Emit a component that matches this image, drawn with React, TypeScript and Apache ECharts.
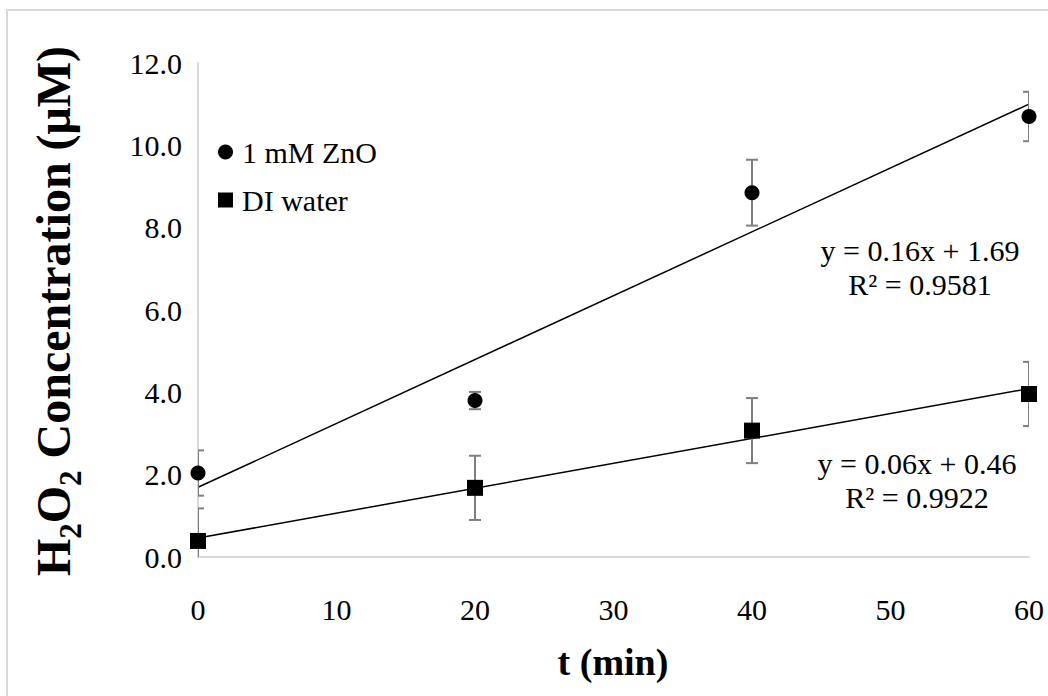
import React, { useEffect, useRef } from "react";
import * as echarts from "echarts";

// Sampling times (min)
const times = [0, 20, 40, 60];

// H2O2 concentration (µM) and standard deviations
const znoValues = [2.04, 3.8, 8.85, 10.7];
const znoErrors = [0.55, 0.21, 0.8, 0.6];
const waterValues = [0.39, 1.68, 3.07, 3.96];
const waterErrors = [0.79, 0.78, 0.79, 0.78];

const seriesNames = ["1 mM ZnO", "DI water"];
const znoFitText = ["y = 0.16x + 1.69", "R² = 0.9581"];
const waterFitText = ["y = 0.06x + 0.46", "R² = 0.9922"];

const xTicks = [0, 10, 20, 30, 40, 50, 60];
const yMin = 0;
const yMax = 12;
const yStep = 2;

const FONT = "'Liberation Serif', 'Times New Roman', serif";

// Ordinary least squares fit, returned as the two end points of the line
function linearFit(xs: number[], ys: number[]) {
  const n = xs.length;
  const mx = xs.reduce((a, b) => a + b, 0) / n;
  const my = ys.reduce((a, b) => a + b, 0) / n;
  let sxy = 0;
  let sxx = 0;
  for (let i = 0; i < n; i++) {
    sxy += (xs[i] - mx) * (ys[i] - my);
    sxx += (xs[i] - mx) * (xs[i] - mx);
  }
  const slope = sxy / sxx;
  const intercept = my - slope * mx;
  const x0 = xTicks[0];
  const x1 = xTicks[xTicks.length - 1];
  return [
    [x0, intercept + slope * x0],
    [x1, intercept + slope * x1],
  ];
}

function errorBarSeries(values: number[], errors: number[]) {
  return {
    type: "custom",
    clip: true,
    z: 2,
    silent: true,
    encode: { x: 0, y: 1 },
    data: times.map((t, i) => [t, values[i], errors[i]]),
    renderItem: (_params: any, api: any) => {
      const x = api.value(0);
      const y = api.value(1);
      const e = api.value(2);
      const top = api.coord([x, y + e]);
      const bot = api.coord([x, y - e]);
      const half = 6;
      const style = { stroke: "#7f7f7f", lineWidth: 2 };
      return {
        type: "group",
        children: [
          { type: "line", shape: { x1: top[0], y1: top[1], x2: bot[0], y2: bot[1] }, style },
          { type: "line", shape: { x1: top[0] - half, y1: top[1], x2: top[0] + half, y2: top[1] }, style },
          { type: "line", shape: { x1: bot[0] - half, y1: bot[1], x2: bot[0] + half, y2: bot[1] }, style },
        ],
      };
    },
  };
}

export default function App() {
  const ref = useRef<HTMLDivElement>(null);

  useEffect(() => {
    if (!ref.current) return;
    const chart = echarts.init(ref.current, null, { renderer: "svg" });

    const textStyle = { fontFamily: FONT, fontSize: 30, color: "#000" };

    chart.setOption({
      animation: false,
      backgroundColor: "#fff",
      grid: { left: 198, right: 19, top: 63, bottom: 139, containLabel: false },
      legend: {
        data: [
          { name: seriesNames[0], icon: "circle" },
          { name: seriesNames[1], icon: "rect" },
        ],
        orient: "vertical",
        left: 213,
        top: 132,
        itemWidth: 15,
        itemHeight: 15,
        itemGap: 18,
        itemStyle: { opacity: 1, color: "#000" },
        textStyle: { ...textStyle, padding: [0, 0, 0, 4] },
      },
      xAxis: {
        type: "value",
        min: xTicks[0],
        max: xTicks[xTicks.length - 1],
        interval: 10,
        axisLine: { show: true, lineStyle: { color: "#d9d9d9", width: 2 } },
        axisTick: { show: false },
        splitLine: { show: false },
        axisLabel: { ...textStyle, margin: 37 },
      },
      yAxis: {
        type: "value",
        min: yMin,
        max: yMax,
        interval: yStep,
        axisLine: { show: true, lineStyle: { color: "#d9d9d9", width: 2 } },
        axisTick: { show: false },
        splitLine: { show: false },
        axisLabel: { ...textStyle, margin: 16, formatter: (v: number) => v.toFixed(1) },
      },
      graphic: [
        {
          type: "rect",
          silent: true,
          shape: { x: 7, y: 10, width: 1200, height: 1000 },
          style: { fill: "none", stroke: "#d9d9d9", lineWidth: 2 },
        },
        {
          type: "text",
          x: 613,
          y: 662,
          style: {
            text: "t (min)",
            font: `bold 38px ${FONT}`,
            fill: "#000",
            align: "center",
            verticalAlign: "middle",
          },
        },
        {
          type: "text",
          x: 62,
          y: 311,
          rotation: Math.PI / 2,
          style: {
            text: "{a|H}{s|2}{a|O}{s|2}{a| Concentration (μM)}",
            align: "center",
            verticalAlign: "middle",
            rich: {
              a: {
                fontFamily: FONT,
                fontWeight: "bold",
                fontSize: 48,
                lineHeight: 48,
                padding: [0, 0, 9, 0],
                verticalAlign: "bottom",
                fill: "#000",
                color: "#000",
              },
              s: {
                fontFamily: FONT,
                fontWeight: "bold",
                fontSize: 31,
                lineHeight: 31,
                verticalAlign: "bottom",
                fill: "#000",
                color: "#000",
              },
            },
          },
        },
        {
          type: "text",
          x: 920,
          y: 267,
          style: {
            text: znoFitText.join("\n"),
            font: `30px ${FONT}`,
            lineHeight: 34,
            fill: "#000",
            align: "center",
            verticalAlign: "middle",
          },
        },
        {
          type: "text",
          x: 917,
          y: 480,
          style: {
            text: waterFitText.join("\n"),
            font: `30px ${FONT}`,
            lineHeight: 34,
            fill: "#000",
            align: "center",
            verticalAlign: "middle",
          },
        },
      ],
      series: [
        {
          name: "ZnO fit",
          type: "line",
          data: linearFit(times, znoValues),
          symbol: "none",
          z: 1,
          silent: true,
          lineStyle: { color: "#000", width: 1.5 },
        },
        {
          name: "DI fit",
          type: "line",
          data: linearFit(times, waterValues),
          symbol: "none",
          z: 1,
          silent: true,
          lineStyle: { color: "#000", width: 1.5 },
        },
        errorBarSeries(znoValues, znoErrors),
        errorBarSeries(waterValues, waterErrors),
        {
          name: seriesNames[0],
          type: "scatter",
          symbol: "circle",
          symbolSize: 15,
          z: 3,
          itemStyle: { color: "#000", opacity: 1 },
          data: times.map((t, i) => [t, znoValues[i]]),
        },
        {
          name: seriesNames[1],
          type: "scatter",
          symbol: "rect",
          symbolSize: 16,
          z: 3,
          itemStyle: { color: "#000", opacity: 1 },
          data: times.map((t, i) => [t, waterValues[i]]),
        },
      ],
    });

    return () => chart.dispose();
  }, []);

  return (
    <div
      ref={ref}
      style={{ position: "fixed", left: 0, top: 0, width: 1048, height: 696 }}
    />
  );
}
